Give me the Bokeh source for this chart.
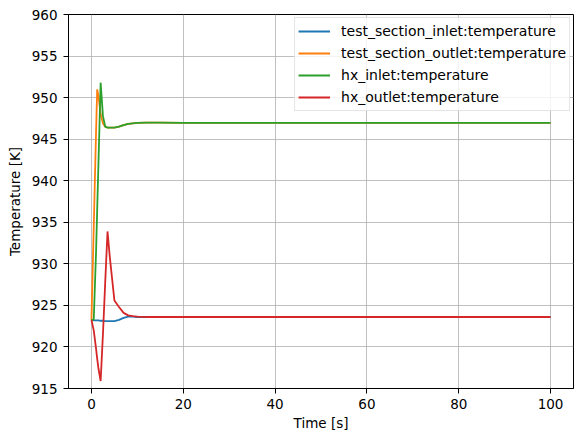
from bokeh.plotting import figure
from bokeh.models import FixedTicker, Range1d, Legend, LegendItem
from bokeh.embed import file_html
from bokeh.resources import INLINE

time = [0, 0.5, 1.0, 1.25, 1.5, 2.0, 2.5, 3.0, 3.5, 4.0, 5.0, 6.0, 7.0, 8.0, 9.0,
        10, 12, 15, 20, 30, 40, 50, 60, 70, 80, 90, 100]

ts_inlet = [923.25, 923.2, 923.2, 923.2, 923.2, 923.15, 923.15, 923.1, 923.1, 923.1,
            923.1, 923.25, 923.5, 923.65, 923.65, 923.6, 923.6, 923.6, 923.6, 923.6,
            923.6, 923.6, 923.6, 923.6, 923.6, 923.6, 923.6]
ts_outlet = [923.25, 934.5, 945.8, 951.0, 950.3, 948.0, 946.9, 946.5, 946.4, 946.4,
             946.4, 946.5, 946.7, 946.85, 946.9, 946.95, 947.0, 947.0, 946.95, 946.95,
             946.95, 946.95, 946.95, 946.95, 946.95, 946.95, 946.95]
hx_inlet = [923.25, 923.3, 931.4, 936.5, 941.6, 951.8, 947.8, 946.5, 946.4, 946.4,
            946.4, 946.5, 946.7, 946.85, 946.9, 946.95, 947.0, 947.0, 946.95, 946.95,
            946.95, 946.95, 946.95, 946.95, 946.95, 946.95, 946.95]
hx_outlet = [923.25, 922.0, 919.8, 918.6, 917.5, 915.9, 921.5, 927.8, 933.9, 930.8,
             925.6, 924.8, 924.1, 923.8, 923.7, 923.65, 923.6, 923.6, 923.6, 923.6,
             923.6, 923.6, 923.6, 923.6, 923.6, 923.6, 923.6]

labels = ["test_section_inlet:temperature", "test_section_outlet:temperature",
          "hx_inlet:temperature", "hx_outlet:temperature"]
colors = ["#1f77b4", "#ff7f0e", "#2ca02c", "#d62728"]
x_ticks = [0, 20, 40, 60, 80, 100]
y_ticks = [915, 920, 925, 930, 935, 940, 945, 950, 955, 960]

FONT = "DejaVu Sans"

p = figure(width=574, height=433, output_backend="svg", toolbar_location=None,
           x_range=Range1d(-5, 105), y_range=Range1d(915, 960),
           min_border_left=68, min_border_right=1, min_border_top=14, min_border_bottom=44,
           x_axis_label="Time [s]", y_axis_label="Temperature [K]")
p.background_fill_color = "white"
p.border_fill_color = "white"
p.outline_line_color = "black"
p.outline_line_alpha = 1
p.outline_line_width = 1

items = []
for ys, c, lab in zip([ts_inlet, ts_outlet, hx_inlet, hx_outlet], colors, labels):
    r = p.line(time, ys, line_color=c, line_width=1.8)
    items.append(LegendItem(label=lab, renderers=[r]))

for ax in (p.xaxis[0], p.yaxis[0]):
    ax.axis_line_color = "black"
    ax.major_tick_line_color = "black"
    ax.major_tick_out = 5
    ax.major_tick_in = 0
    ax.minor_tick_line_color = None
    ax.major_label_text_font = FONT
    ax.major_label_text_font_size = "13.5px"
    ax.major_label_text_color = "black"
    ax.axis_label_text_font = FONT
    ax.axis_label_text_font_size = "13.5px"
    ax.axis_label_text_font_style = "normal"
    ax.axis_label_text_color = "black"

p.xaxis.ticker = FixedTicker(ticks=x_ticks)
p.yaxis.ticker = FixedTicker(ticks=y_ticks)
p.xaxis.major_label_standoff = 5
p.yaxis.major_label_standoff = 6
p.xaxis.axis_label_standoff = 3
p.yaxis.axis_label_standoff = 6

p.xgrid.ticker = FixedTicker(ticks=x_ticks)
p.ygrid.ticker = FixedTicker(ticks=y_ticks)
for g in (p.xgrid[0], p.ygrid[0]):
    g.grid_line_color = "#b0b0b0"
    g.grid_line_width = 0.8

legend = Legend(items=items, location="top_right")
legend.label_text_font = FONT
legend.label_text_font_size = "14px"
legend.label_text_color = "black"
legend.glyph_width = 32
legend.glyph_height = 16
legend.label_standoff = 11
legend.padding = 3
legend.spacing = 2
legend.label_height = 20
legend.margin = 3
legend.border_line_color = "#cccccc"
legend.background_fill_color = "white"
legend.background_fill_alpha = 0.8
p.add_layout(legend)

open("out.html", "w").write(file_html(p, INLINE))
